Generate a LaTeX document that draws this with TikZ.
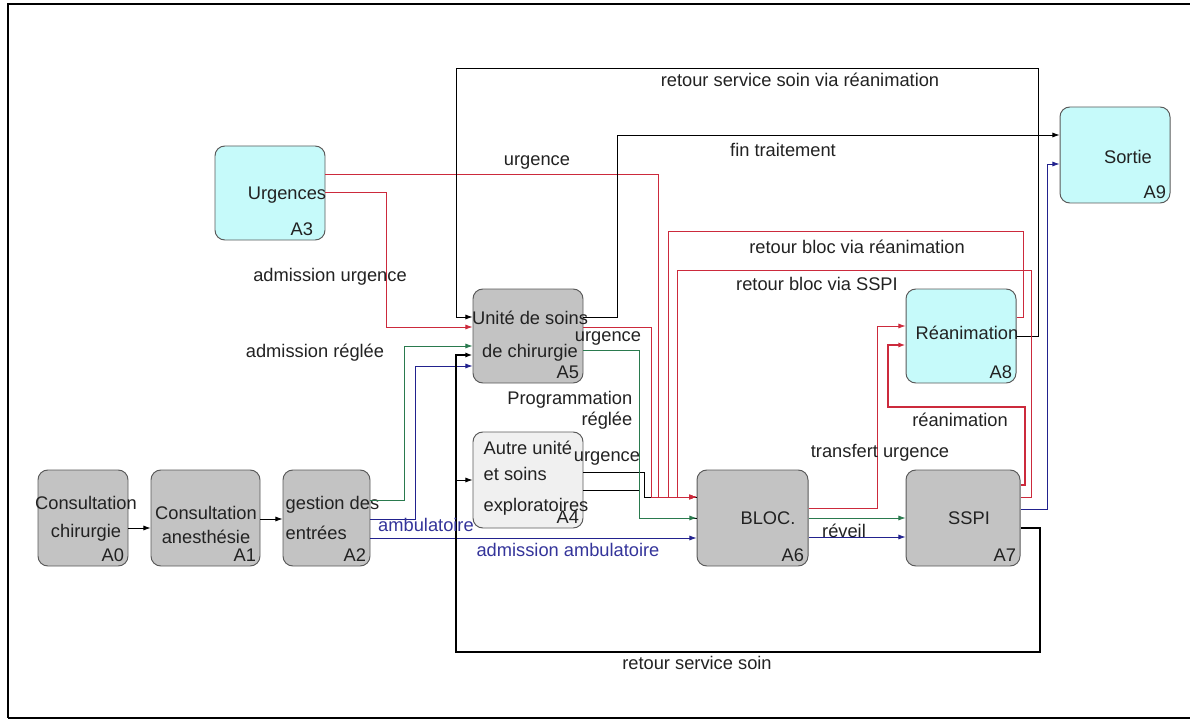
\documentclass[tikz,border=0pt]{standalone}
\usepackage{fontspec}
\setmainfont{Liberation Sans}
\usepackage{tikz}
\usetikzlibrary{arrows.meta}
\definecolor{boxgray}{HTML}{C3C3C3}
\definecolor{boxcyan}{HTML}{C6FAFA}
\definecolor{boxpale}{HTML}{F0F0F0}
\definecolor{boxedge}{HTML}{5A5A5A}
\definecolor{inkgray}{HTML}{222222}
\definecolor{flowred}{HTML}{CC2A3C}
\definecolor{flowgreen}{HTML}{2A7A4E}
\definecolor{flownavy}{HTML}{22228E}
\definecolor{textnavy}{HTML}{34349A}

\begin{document}
\begin{tikzpicture}[x=0.025cm,y=-0.025cm,
  every node/.style={font=\fontsize{13}{20}\selectfont, text=inkgray, inner sep=1pt},
  pbox/.style={draw=boxedge, rounded corners=7pt, line width=0.7pt},
  codelab/.style={anchor=south east, inner sep=3pt},
  ln/.style={line width=0.6pt, -{Latex[length=5pt,width=3.6pt]}},
  kln/.style={ln, draw=black},
  rln/.style={ln, draw=flowred},
  gln/.style={ln, draw=flowgreen},
  bln/.style={ln, draw=flownavy}]
\useasboundingbox (0,0) rectangle (1190,722);
% cadre
\draw[line width=1.5pt] (1190,4) -- (8,4) -- (8,718);
\draw[line width=1pt] (8,718) -- (1190,718);

% activites
\foreach \n/\x/\y/\w/\h/\c in {a0/83/518/90/96/boxgray, a1/205.5/518/109/96/boxgray,
  a2/326.5/518/87/96/boxgray, a3/270/193/110/94/boxcyan, a4/528/480/110/96/boxpale,
  a5/528/336/110/94/boxgray, a6/752.5/518/111/96/boxgray, a7/963/518/114/96/boxgray,
  a8/961/336/110/94/boxcyan, a9/1115/155/110/96/boxcyan}{
  \node[pbox, fill=\c, minimum width=\w*0.025cm, minimum height=\h*0.025cm] (\n) at (\x,\y) {};
}
\node[align=center] (a0t) at (86,519) {Consultation\\chirurgie};
\node[align=center] (a1t) at (206,525) {Consultation\\[-3pt]anesthésie};
\node[align=left, anchor=west] (a2t) at (284,518) {gestion des\\[1pt]entrées};
\node (a3t) at (287,195) {Urgences};
\node[align=left, anchor=west] (a4t) at (482,478) {Autre unité\\[-1.5pt]et soins\\[2pt]exploratoires};
\node[align=center] (a5t) at (530,336) {Unité de soins\\[3pt]de chirurgie};
\node (a6t) at (768,518) {BLOC.};
\node (a7t) at (969,518) {SSPI};
\node (a8t) at (967,333) {Réanimation};
\node (a9t) at (1128,157) {Sortie};
\foreach \n/\l in {a0/A0, a1/A1, a2/A2, a4/A4, a5/A5, a6/A6, a7/A7, a8/A8, a9/A9}
  \node[codelab] (\n c) at (\n.south east) {\l};
\node[codelab] (a3c) at ([xshift=-0.2cm]a3.south east) {A3};

% flux secondaires (sous les rouges et verts)
\draw[ln, -] (a4.east |- 0,472) -| (644,497) -- (a6.west |- 0,497);
\draw[ln, -] (a4.east |- 0,490) -| (639,518) -- (a6.west |- 0,518);

% parcours patient
\draw[kln] (a0.east |- 0,528) -- (a1.west |- 0,528);
\draw[kln] (a1.east |- 0,519) -- (a2.west |- 0,519);
\draw[gln] (a2.east |- 0,500) -| (404,346) -- (a5.west |- 0,346);
\draw[bln] (a2.east |- 0,519) -| (415,366) -- (a5.west |- 0,366);
\draw[bln] (a2.east |- 0,538) -- (a6.west |- 0,538);
\draw[rln] (a3.east |- 0,192) -| (386,327) -- (a5.west |- 0,327);
\draw[rln] (a3.east |- 0,174) -| (658,497) -- (a6.west |- 0,497);
\draw[kln] (a8.east |- 0,336) -| (1038,68) -| (456,317) -- (a5.west |- 0,317);
\draw[kln] (a5.east |- 0,317) -| (617,135) -- (a9.west |- 0,135);
\draw[bln] (a7.east |- 0,509) -| (1047,164) -- (a9.west |- 0,164);
\draw[rln] (a8.east |- 0,317) -| (1023,231) -| (668,497) -- (a6.west |- 0,497);
\draw[rln] (a7.east |- 0,497) -| (1031,270) -| (677,497) -- (a6.west |- 0,497);
\draw[rln] (a5.east |- 0,327) -| (651,497) -- (a6.west |- 0,497);
\draw[gln] (a5.east |- 0,350) -| (639,518) -- (a6.west |- 0,518);
\draw[rln] (a6.east |- 0,508) -| (877,326) -- (a8.west |- 0,326);
\draw[rln, line width=1.6pt] (a7.east |- 0,485) -| (1025,407) -| (888,345) -- (a8.west |- 0,345);
\draw[gln] (a6.east |- 0,518) -- (a7.west |- 0,518);
\draw[bln] (a6.east |- 0,537) -- (a7.west |- 0,537);
\draw[kln, line width=1.1pt] (a7.east |- 0,528) -| (1040,652) -| (456,355) -- (a5.west |- 0,355);
\coordinate (fork) at (456,480);
\draw[kln] (fork) -- (a4.west |- fork);

% libelles
\node (l1) at (800,80) {retour service soin via réanimation};
\node (l2) at (783,150) {fin traitement};
\node (l3) at (537,162) {urgence};
\node (l4) at (330,277) {admission urgence};
\node (l5) at (315,353) {admission réglée};
\node (l6) at (857,247) {retour bloc via réanimation};
\node (l7) at (817,284) {retour bloc via SSPI};
\node (l8) at (608,338) {urgence};
\node[align=right, anchor=east] (l9) at (634,410) {Programmation\\[-5pt]réglée};
\node (l10) at (607,458) {urgence};
\node[text=textnavy] (l11) at (426,525) {ambulatoire};
\node[text=textnavy] (l12) at (568,550) {admission ambulatoire};
\node (l13) at (880,453) {transfert urgence};
\node (l14) at (960,420) {réanimation};
\node (l15) at (844,531) {réveil};
\node (l16) at (697,663) {retour service soin};
\end{tikzpicture}
\end{document}
